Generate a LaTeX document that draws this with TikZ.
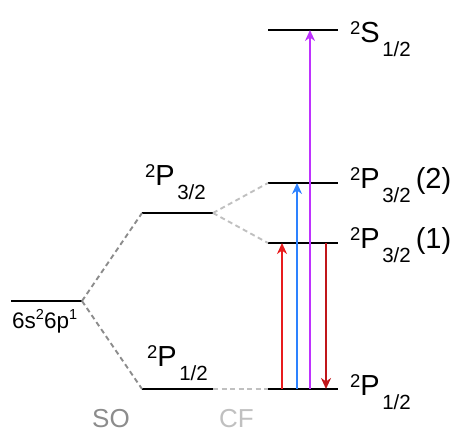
\documentclass[tikz,border=0pt]{standalone}
\usepackage{fontspec}
\setmainfont{Liberation Sans}
\usetikzlibrary{arrows.meta}
\definecolor{soGray}{RGB}{140,140,140}
\definecolor{cfGray}{RGB}{192,192,192}
\definecolor{upRed}{RGB}{232,28,30}
\definecolor{downRed}{RGB}{192,22,26}
\definecolor{cfBlue}{RGB}{45,130,255}
\definecolor{sPurple}{RGB}{190,50,255}
\newcommand{\term}[3]{{\fontsize{18.5}{18.5}\selectfont\raisebox{7.5pt}{#1}}#2\hspace{2.5pt}{\fontsize{20.5}{20.5}\selectfont\raisebox{-14pt}{#3}}}

\begin{document}
\begin{tikzpicture}[x=1pt, y=-1pt,
    level/.style={line width=2.6pt, black},
    sosplit/.style={dashed, dash pattern=on 5pt off 3.5pt, line width=1.9pt, soGray},
    cfsplit/.style={dashed, dash pattern=on 5pt off 3.5pt, line width=1.9pt, cfGray},
    lab/.style={anchor=base west, inner sep=0pt, font=\fontsize{29}{29}\selectfont},
    arr/.style={line width=2pt, -{Stealth[length=11pt, width=10pt, inset=3.5pt]}}
]
\useasboundingbox (0,0) rectangle (455,432);

\coordinate (conf-l) at (11,301);
\coordinate (conf-r) at (82,301);
\coordinate (so32-l) at (142,213);
\coordinate (so32-r) at (213,213);
\coordinate (so12-l) at (142,389);
\coordinate (so12-r) at (213,389);
\coordinate (s12-l) at (268,30);
\coordinate (s12-r) at (338,30);
\coordinate (p32b-l) at (268,183);
\coordinate (p32b-r) at (338,183);
\coordinate (p32a-l) at (268,243);
\coordinate (p32a-r) at (338,243);
\coordinate (p12-l) at (268,389);
\coordinate (p12-r) at (338,389);

\draw[level] (conf-l) -- (conf-r);
\draw[level] (so32-l) -- (so32-r);
\draw[level] (so12-l) -- (so12-r);
\draw[level] (s12-l) -- (s12-r);
\draw[level] (p32b-l) -- (p32b-r);
\draw[level] (p32a-l) -- (p32a-r);
\draw[level] (p12-l) -- (p12-r);

\draw[sosplit] (conf-r) -- (so32-l);
\draw[sosplit] (conf-r) -- (so12-l);
\draw[cfsplit] (so32-r) -- (p32b-l);
\draw[cfsplit] (so32-r) -- (p32a-l);
\draw[cfsplit] (so12-r) -- (p12-l);

\coordinate (red-lo) at (282,389);
\coordinate (red-hi) at (282,243);
\coordinate (blue-lo) at (297,389);
\coordinate (blue-hi) at (297,183);
\coordinate (purple-lo) at (310,389);
\coordinate (purple-hi) at (310,30);
\coordinate (back-hi) at (326,243);
\coordinate (back-lo) at (326,389);

\draw[arr, upRed] (red-lo) -- (red-hi);
\draw[arr, cfBlue] (blue-lo) -- (blue-hi);
\draw[arr, sPurple] (purple-lo) -- (purple-hi);
\draw[arr, downRed] (back-hi) -- (back-lo);

\node[lab, font=\fontsize{22.5}{22.5}\selectfont] (conf) at (12,328) {6s{\fontsize{14.5}{14.5}\selectfont\raisebox{8.5pt}{2}}6p{\fontsize{14.5}{14.5}\selectfont\raisebox{8.5pt}{1}}};
\node[lab] (so32) at (145,185) {\term{2}{P}{3/2}};
\node[lab] (so12) at (147,366) {\term{2}{P}{1/2}};
\node[lab] (s12) at (350,42) {\term{2}{S}{1/2}};
\node[lab] (p32b) at (350,188) {\term{2}{P}{3/2}\hspace{5pt}(2)};
\node[lab] (p32a) at (350,248) {\term{2}{P}{3/2}\hspace{5pt}(1)};
\node[lab] (p12) at (350,395) {\term{2}{P}{1/2}};

\node[lab, font=\fontsize{26}{26}\selectfont, text=soGray] (so) at (92,427) {SO};
\node[lab, font=\fontsize{26}{26}\selectfont, text=cfGray] (cf) at (219,427) {CF};
\end{tikzpicture}
\end{document}
